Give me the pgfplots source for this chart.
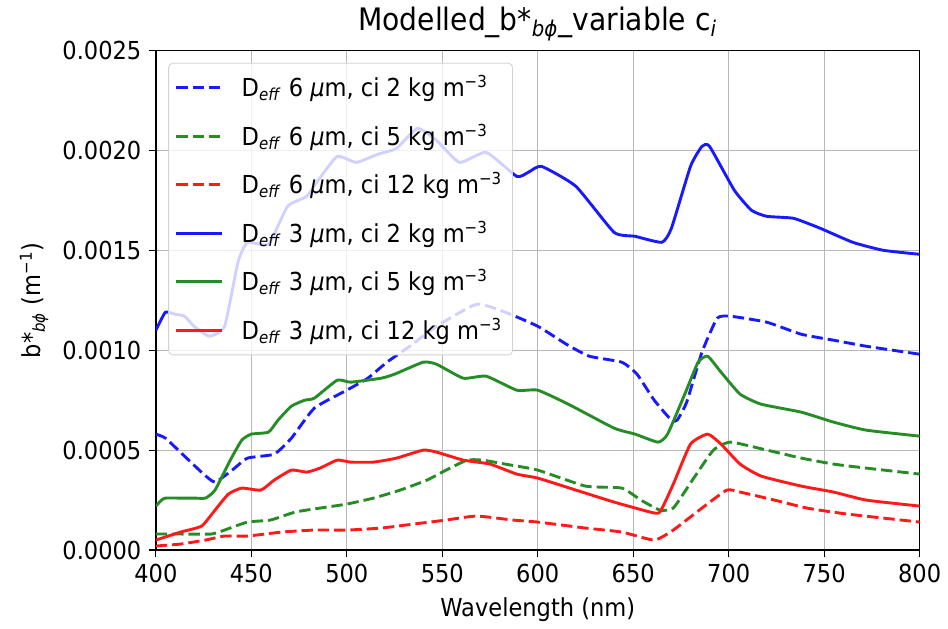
\documentclass[border=0pt]{standalone}
\usepackage{fontspec}
\setmainfont[FakeStretch=0.91]{DejaVu Sans}
\usepackage{pgfplots}
\pgfplotsset{compat=1.18}
\definecolor{mblue}{RGB}{25,25,255}
\definecolor{mgreen}{RGB}{38,140,38}
\definecolor{mred}{RGB}{255,25,25}
\definecolor{gridc}{RGB}{184,184,184}
\newcommand{\eff}{\textsubscript{\textit{eff}}}
\newcommand{\mcub}{kg m\textsuperscript{−3}}
\begin{document}
\begin{tikzpicture}
\begin{axis}[
  scale only axis,
  width=370pt, height=242pt,
  xmin=400, xmax=800, ymin=0, ymax=0.0025,
  xtick={400,450,...,800},
  ytick={0,0.0005,0.001,0.0015,0.002,0.0025},
  xtick pos=bottom, ytick pos=left,
  scaled y ticks=false,
  yticklabel style={/pgf/number format/.cd, fixed, fixed zerofill, precision=4},
  /pgf/number format/assume math mode=true,
  ticklabel style={font=\fontsize{12}{14}\selectfont},
  tick align=outside,
  tick style={black, line width=0.6pt},
  major tick length=3.5pt,
  axis line style={black, line width=0.8pt},
  grid=major,
  grid style={gridc, line width=0.6pt},
  title={Modelled\_b*\textsubscript{\textit{bϕ}}\_variable c\textsubscript{\textit{i}}},
  title style={font=\fontsize{15}{17}\selectfont, yshift=-5pt},
  xlabel={Wavelength (nm)},
  ylabel={b*\textsubscript{\textit{bϕ}} (m\textsuperscript{−1})},
  label style={font=\fontsize{12}{14}\selectfont},
  every axis plot/.append style={line width=1.4pt, line join=round, smooth, tension=0.3},
  legend cell align=left,
  legend style={at={(0,1)}, anchor=north west, xshift=6pt, yshift=-6pt,
    draw=gray!35, fill=white, fill opacity=0.8, text opacity=1,
    rounded corners=2pt, font=\fontsize{12}{14}\selectfont,
    row sep=7.7pt, inner xsep=3pt, inner ysep=4pt},
  legend image code/.code={\draw[#1] (0pt,0pt) -- (22pt,0pt); \path (29pt,0pt);},
]
\coordinate (bl) at (rel axis cs:0,0);
\coordinate (tr) at (rel axis cs:1,1);
% D6 ci2 (blue dashed)
\addplot[mblue, dashed, dash pattern=on 5.5pt off 2.4pt] coordinates {
(400,0.00058)(405,0.00056)(415,0.00047)(425,0.00038)(431,0.00034)(440,0.00040)(448,0.00046)(462,0.00048)(471,0.00056)(483,0.00071)(500,0.00080)(511,0.00086)(521,0.00094)(533,0.00102)(547,0.00112)(568,0.00123)(583,0.00119)(600,0.00112)(615,0.00103)(627,0.00097)(644,0.00094)(652,0.00088)(661,0.00075)(670,0.00065)(673,0.00065)(678,0.00074)(686,0.00099)(694,0.00116)(701,0.00117)(720,0.00114)(738,0.00108)(755,0.00105)(772,0.00102)(800,0.00098)};
\addlegendentry{D\eff\ 6 \textit{µ}m, ci 2 \mcub}
% D6 ci5 (green dashed)
\addplot[mgreen, dashed, dash pattern=on 5.5pt off 2.4pt] coordinates {
(400,0.00008)(413,0.00008)(429,0.00008)(436,0.00010)(448,0.00014)(460,0.00015)(473,0.00019)(486,0.00021)(500,0.00023)(514,0.00026)(528,0.00030)(542,0.00035)(552,0.00040)(563,0.00045)(571,0.00045)(583,0.00043)(600,0.00040)(625,0.00032)(644,0.00031)(654,0.00025)(664,0.00020)(671,0.00021)(681,0.00035)(692,0.00050)(701,0.00054)(720,0.00050)(738,0.00046)(755,0.00043)(772,0.00041)(800,0.00038)};
\addlegendentry{D\eff\ 6 \textit{µ}m, ci 5 \mcub}
% D6 ci12 (red dashed)
\addplot[mred, dashed, dash pattern=on 5.5pt off 2.4pt] coordinates {
(400,0.00002)(413,0.00003)(426,0.00005)(436,0.00007)(448,0.00007)(466,0.00009)(483,0.00010)(500,0.00010)(518,0.00011)(535,0.00013)(552,0.00015)(568,0.00017)(587,0.00015)(600,0.00014)(625,0.00011)(644,0.00009)(661,0.00005)(671,0.00010)(686,0.00021)(699,0.00030)(706,0.00029)(724,0.00025)(741,0.00021)(762,0.00018)(800,0.00014)};
\addlegendentry{D\eff\ 6 \textit{µ}m, ci 12 \mcub}
% D3 ci2 (blue solid)
\addplot[mblue] coordinates {
(400,0.00110)(405,0.00119)(410,0.00118)(415,0.00117)(420,0.00112)(428,0.00107)(436,0.00112)(443,0.00144)(448,0.00154)(459,0.00153)(469,0.00172)(479,0.00177)(485,0.00185)(495,0.00197)(505,0.00194)(516,0.00198)(526,0.00201)(537,0.00211)(547,0.00205)(559,0.00194)(573,0.00199)(589,0.00187)(595,0.00189)(602,0.00192)(620,0.00182)(640,0.00159)(651,0.00157)(665,0.00154)(670,0.00161)(680,0.00192)(686,0.00202)(690,0.00202)(703,0.00180)(712,0.00170)(720,0.00167)(734,0.00166)(748,0.00161)(765,0.00154)(781,0.00150)(800,0.00148)};
\addlegendentry{D\eff\ 3 \textit{µ}m, ci 2 \mcub}
% D3 ci5 (green solid)
\addplot[mgreen] coordinates {
(400,0.00022)(403,0.00025)(405,0.00026)(413,0.00026)(420,0.00026)(426,0.00026)(431,0.00030)(439,0.00045)(445,0.00055)(450,0.00058)(459,0.00059)(464,0.00065)(471,0.00072)(478,0.00075)(483,0.00076)(495,0.00085)(502,0.00084)(518,0.00086)(525,0.00088)(540,0.00094)(547,0.00093)(561,0.00086)(573,0.00087)(589,0.00080)(600,0.00080)(616,0.00073)(640,0.00061)(651,0.00058)(663,0.00054)(668,0.00058)(677,0.00078)(684,0.00094)(689,0.00097)(696,0.00089)(706,0.00078)(717,0.00073)(738,0.00069)(755,0.00064)(772,0.00060)(800,0.00057)};
\addlegendentry{D\eff\ 3 \textit{µ}m, ci 5 \mcub}
% D3 ci12 (red solid)
\addplot[mred] coordinates {
(400,0.00005)(413,0.00009)(424,0.00012)(431,0.00020)(438,0.00028)(445,0.00031)(455,0.00030)(462,0.00035)(471,0.00040)(479,0.00039)(486,0.00041)(495,0.00045)(502,0.00044)(514,0.00044)(526,0.00046)(540,0.00050)(547,0.00049)(561,0.00045)(575,0.00043)(589,0.00038)(600,0.00036)(620,0.00030)(640,0.00024)(659,0.00019)(664,0.00019)(671,0.00033)(680,0.00053)(689,0.00058)(696,0.00053)(706,0.00043)(717,0.00037)(738,0.00032)(755,0.00029)(772,0.00025)(800,0.00022)};
\addlegendentry{D\eff\ 3 \textit{µ}m, ci 12 \mcub}
\end{axis}
\path ([xshift=-75.5pt,yshift=-35.6pt]bl) rectangle ([xshift=10pt,yshift=24pt]tr);
\end{tikzpicture}
\end{document}
